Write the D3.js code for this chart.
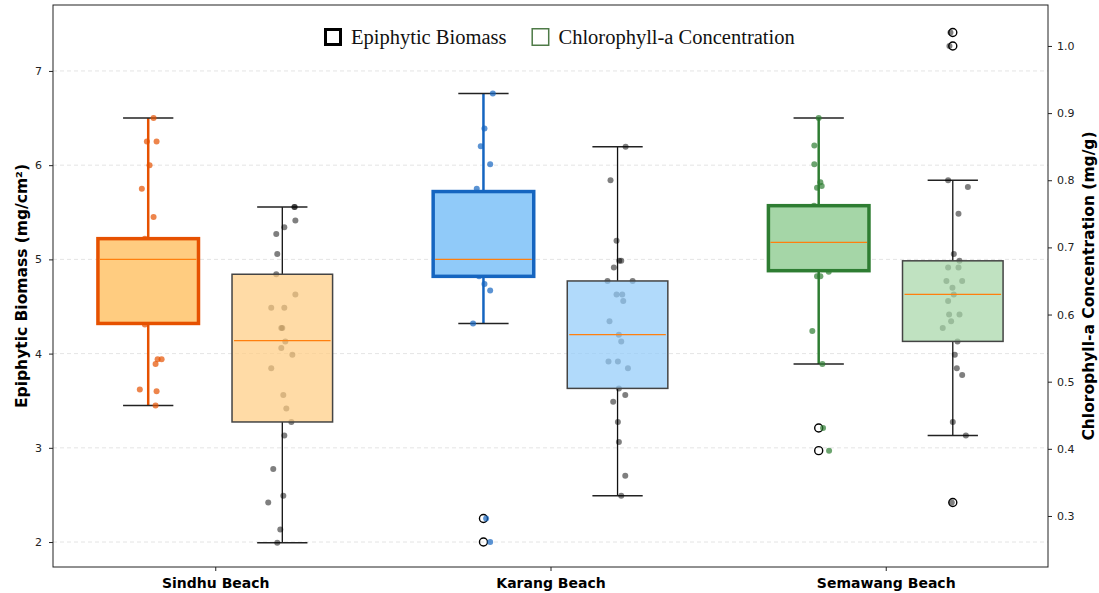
<!DOCTYPE html>
<html>
<head>
<meta charset="utf-8">
<script src="https://cdn.jsdelivr.net/npm/d3@7"></script>
<style>
  body { margin: 0; background: #fff; }
  svg { display: block; font-family: "DejaVu Sans", sans-serif; }
</style>
</head>
<body>
<svg id="chart"></svg>
<script>
// categories
const beaches = ['Sindhu Beach', 'Karang Beach', 'Semawang Beach'];

// epiphytic biomass (mg/cm2) box stats
const biomassWhiskLo = [3.45, 4.32, 3.89];
const biomassQ1 = [4.32, 4.82, 4.88];
const biomassMedian = [5.0, 5.0, 5.18];
const biomassQ3 = [5.22, 5.72, 5.57];
const biomassWhiskHi = [6.5, 6.76, 6.5];
const biomassOutliers = [[], [2.25, 2.0], [3.21, 2.97]];

// chlorophyll-a (mg/g) box stats
const chlWhiskLo = [0.26, 0.33, 0.42];
const chlQ1 = [0.44, 0.49, 0.56];
const chlMedian = [0.561, 0.57, 0.63];
const chlQ3 = [0.66, 0.65, 0.68];
const chlWhiskHi = [0.76, 0.85, 0.80];
const chlOutliers = [[], [], [1.02, 1.0, 0.32]];

// raw observations
const biomassPoints = [
  [6.5, 6.25, 6.25, 6.0, 5.75, 5.45, 5.22, 4.31, 3.94, 3.94, 3.89, 3.62, 3.6, 3.45, 4.55, 4.75, 4.95, 5.05, 5.15, 4.45],
  [6.76, 6.39, 6.2, 6.01, 5.75, 4.82, 4.74, 4.67, 4.32, 2.25, 2.0, 5.0, 5.2, 5.4, 5.55, 4.9, 5.1, 5.3, 5.65],
  [6.5, 6.21, 6.01, 5.82, 5.78, 5.76, 5.57, 4.87, 4.82, 4.82, 4.24, 3.89, 3.21, 2.97, 5.0, 5.1, 5.2, 5.3, 5.4]
];
const chlPoints = [
  [0.76, 0.76, 0.74, 0.73, 0.72, 0.69, 0.66, 0.63, 0.61, 0.61, 0.58, 0.58, 0.56, 0.55, 0.54, 0.52, 0.48, 0.46, 0.44, 0.42, 0.37, 0.33, 0.32, 0.28, 0.26],
  [0.85, 0.80, 0.71, 0.68, 0.68, 0.67, 0.65, 0.65, 0.63, 0.63, 0.62, 0.59, 0.57, 0.56, 0.53, 0.53, 0.52, 0.49, 0.48, 0.47, 0.44, 0.41, 0.36, 0.33],
  [0.80, 0.79, 0.75, 0.69, 0.68, 0.67, 0.67, 0.65, 0.65, 0.64, 0.63, 0.62, 0.60, 0.60, 0.59, 0.58, 0.56, 0.54, 0.52, 0.51, 0.44, 0.42, 1.02, 1.0, 0.32]
];
// horizontal jitter of each observation, in category units
const biomassJitter = [
  [.016, -.004, .025, .004, -.019, .016, -.010, -.010, .028, .040, .022, -.025, .025, .022, .006, -.015, .012, -.006, .018, 0],
  [.028, .003, -.008, .020, -.020, -.013, .003, .020, -.031, .008, .020, 0, .009, -.012, .015, -.006, -.018, .006, -.009],
  [0, -.013, -.013, .005, .009, -.005, -.014, .030, -.005, .005, -.019, .011, .013, .031, .01, -.01, .02, -.02, 0]
];
const chlJitter = [
  [.036, .037, .039, .006, -.018, -.015, -.018, .039, -.033, .006, -.003, 0, .009, -.003, .030, -.033, .003, .012, .027, .006, -.027, .003, -.042, -.006, -.015],
  [.024, -.021, -.003, .005, .011, -.011, -.030, .045, -.003, .014, .017, -.024, .004, .011, -.027, .001, .031, .004, .023, -.013, .001, .004, .023, .011],
  [-.014, .045, .017, .003, .020, -.014, .017, -.019, .028, -.001, .003, -.014, -.011, .020, -.005, -.030, .014, .006, .012, .028, 0, .039, -.007, -.010, -.003]
];

const leftTicks = [2, 3, 4, 5, 6, 7];
const rightTicks = [0.3, 0.4, 0.5, 0.6, 0.7, 0.8, 0.9, 1.0];

// colours per beach
const fillColors = ['#FFCC80', '#90CAF9', '#A5D6A7'];
const edgeColors = ['#E65100', '#1565C0', '#2E7D32'];

const width = 1099, height = 593;
const margin = { top: 5, right: 51, bottom: 26, left: 53 };
const plotW = width - margin.left - margin.right;
const plotH = height - margin.top - margin.bottom;

const svg = d3.select('#chart').attr('width', width).attr('height', height);

const x = d3.scaleLinear().domain([0.516, 3.484]).range([margin.left, width - margin.right]);
const yLeft = d3.scaleLinear().domain([1.735, 7.70]).range([height - margin.bottom, margin.top]);
const yRight = d3.scaleLinear().domain([0.224, 1.061]).range([height - margin.bottom, margin.top]);

const boxWidth = 0.3;
const capWidth = 0.15;

// layers
const gGrid = svg.append('g');
const gWhisk = svg.append('g');
const gFliers = svg.append('g');
const gPoints = svg.append('g');
const gBoxes = svg.append('g');
const gMedians = svg.append('g');

// grid lines (left axis only)
gGrid.selectAll('line').data(leftTicks).enter().append('line')
  .attr('x1', margin.left).attr('x2', width - margin.right)
  .attr('y1', d => yLeft(d)).attr('y2', d => yLeft(d))
  .attr('stroke', '#ddd').attr('stroke-width', 0.8).attr('stroke-dasharray', '4,3');

const series = [
  {
    y: yLeft, shift: -0.2, lo: biomassWhiskLo, q1: biomassQ1, med: biomassMedian, q3: biomassQ3, hi: biomassWhiskHi,
    outliers: biomassOutliers, points: biomassPoints, jitter: biomassJitter,
    boxFill: i => fillColors[i], boxOpacity: 1, boxStroke: i => edgeColors[i], boxStrokeWidth: 3.5,
    whiskColor: i => edgeColors[i], whiskWidth: 2.5,
    pointColor: i => edgeColors[i], pointOpacity: 0.7
  },
  {
    y: yRight, shift: 0.2, lo: chlWhiskLo, q1: chlQ1, med: chlMedian, q3: chlQ3, hi: chlWhiskHi,
    outliers: chlOutliers, points: chlPoints, jitter: chlJitter,
    boxFill: i => fillColors[i], boxOpacity: 0.7, boxStroke: () => '#444', boxStrokeWidth: 1.5,
    whiskColor: () => '#111', whiskWidth: 1.3,
    pointColor: () => '#000', pointOpacity: 0.5
  }
];

series.forEach(s => {
  beaches.forEach((b, i) => {
    const cx = i + 1 + s.shift;

    // whiskers
    [[s.lo[i], s.q1[i]], [s.q3[i], s.hi[i]]].forEach(([a, c]) => {
      gWhisk.append('line')
        .attr('x1', x(cx)).attr('x2', x(cx))
        .attr('y1', s.y(a)).attr('y2', s.y(c))
        .attr('stroke', s.whiskColor(i)).attr('stroke-width', s.whiskWidth);
    });
    // caps
    gWhisk.selectAll(null).data([s.lo[i], s.hi[i]]).enter().append('line')
      .attr('x1', x(cx - capWidth / 2)).attr('x2', x(cx + capWidth / 2))
      .attr('y1', d => s.y(d)).attr('y2', d => s.y(d))
      .attr('stroke', '#222').attr('stroke-width', 1.5);

    // fliers
    gFliers.selectAll(null).data(s.outliers[i]).enter().append('circle')
      .attr('cx', x(cx)).attr('cy', d => s.y(d)).attr('r', 4)
      .attr('fill', 'none').attr('stroke', '#000').attr('stroke-width', 1.4);

    // jittered observations
    gPoints.selectAll(null).data(s.points[i]).enter().append('circle')
      .attr('cx', (d, j) => x(cx + s.jitter[i][j]))
      .attr('cy', d => s.y(d))
      .attr('r', 3)
      .attr('fill', s.pointColor(i))
      .attr('fill-opacity', s.pointOpacity);

    // box
    const boxG = gBoxes.append('g');
    boxG.append('rect')
      .attr('x', x(cx - boxWidth / 2)).attr('width', x(cx + boxWidth / 2) - x(cx - boxWidth / 2))
      .attr('y', s.y(s.q3[i])).attr('height', s.y(s.q1[i]) - s.y(s.q3[i]))
      .attr('fill', s.boxFill(i)).attr('fill-opacity', s.boxOpacity);
    boxG.append('rect')
      .attr('x', x(cx - boxWidth / 2)).attr('width', x(cx + boxWidth / 2) - x(cx - boxWidth / 2))
      .attr('y', s.y(s.q3[i])).attr('height', s.y(s.q1[i]) - s.y(s.q3[i]))
      .attr('fill', 'none').attr('stroke', s.boxStroke(i)).attr('stroke-width', s.boxStrokeWidth);

    // median
    gMedians.append('line')
      .attr('x1', x(cx - boxWidth / 2) + 2).attr('x2', x(cx + boxWidth / 2) - 2)
      .attr('y1', s.y(s.med[i])).attr('y2', s.y(s.med[i]))
      .attr('stroke', '#FF7F0E').attr('stroke-width', 1.2);
  });
});

// axes
const styleAxis = g => {
  g.select('.domain').remove();
  g.selectAll('.tick line').attr('stroke', '#222');
  g.selectAll('.tick text').attr('fill', '#222').style('font-size', '11px').style('font-family', '"DejaVu Sans", sans-serif');
};

svg.append('g')
  .attr('transform', `translate(${margin.left},0)`)
  .call(d3.axisLeft(yLeft).tickValues(leftTicks).tickFormat(d3.format('d')).tickSize(4).tickPadding(7))
  .call(styleAxis);

svg.append('g')
  .attr('transform', `translate(${width - margin.right},0)`)
  .call(d3.axisRight(yRight).tickValues(rightTicks).tickFormat(d3.format('.1f')).tickSize(4).tickPadding(5))
  .call(styleAxis);

svg.append('g')
  .attr('transform', `translate(0,${height - margin.bottom})`)
  .call(d3.axisBottom(x).tickValues([1, 2, 3]).tickFormat(d => beaches[d - 1]).tickSize(4).tickPadding(7))
  .call(styleAxis)
  .call(g => g.selectAll('.tick text').style('font-size', '14px').style('font-weight', 'bold').attr('fill', '#000'));

// frame
svg.append('rect')
  .attr('x', margin.left).attr('y', margin.top)
  .attr('width', plotW).attr('height', plotH)
  .attr('fill', 'none').attr('stroke', '#222').attr('stroke-width', 1);

// axis titles
svg.append('text')
  .attr('transform', `translate(27,${margin.top + plotH / 2}) rotate(-90)`)
  .attr('text-anchor', 'middle')
  .style('font-size', '15.5px').style('font-weight', 'bold')
  .text('Epiphytic Biomass (mg/cm²)');

svg.append('text')
  .attr('transform', `translate(1094,${margin.top + plotH / 2}) rotate(-90)`)
  .attr('text-anchor', 'middle')
  .style('font-size', '15.5px').style('font-weight', 'bold')
  .text('Chlorophyll-a Concentration (mg/g)');

// legend
const legendItems = [
  { label: 'Epiphytic Biomass', stroke: '#000', sw: 3 },
  { label: 'Chlorophyll-a Concentration', stroke: '#4E7A47', sw: 1.5 }
];
const legend = svg.append('g').attr('transform', 'translate(324,28)');
let lx = 0;
legendItems.forEach(item => {
  legend.append('rect')
    .attr('x', lx + item.sw / 2).attr('y', item.sw / 2)
    .attr('width', 18 - item.sw).attr('height', 18 - item.sw)
    .attr('fill', '#fff').attr('stroke', item.stroke).attr('stroke-width', item.sw);
  const t = legend.append('text')
    .attr('x', lx + 27).attr('y', 16)
    .style('font-family', '"Liberation Serif", "Times New Roman", serif')
    .style('font-size', '20.5px')
    .attr('fill', '#111')
    .text(item.label);
  lx += 27 + t.node().getComputedTextLength() + 25;
});
</script>
</body>
</html>
